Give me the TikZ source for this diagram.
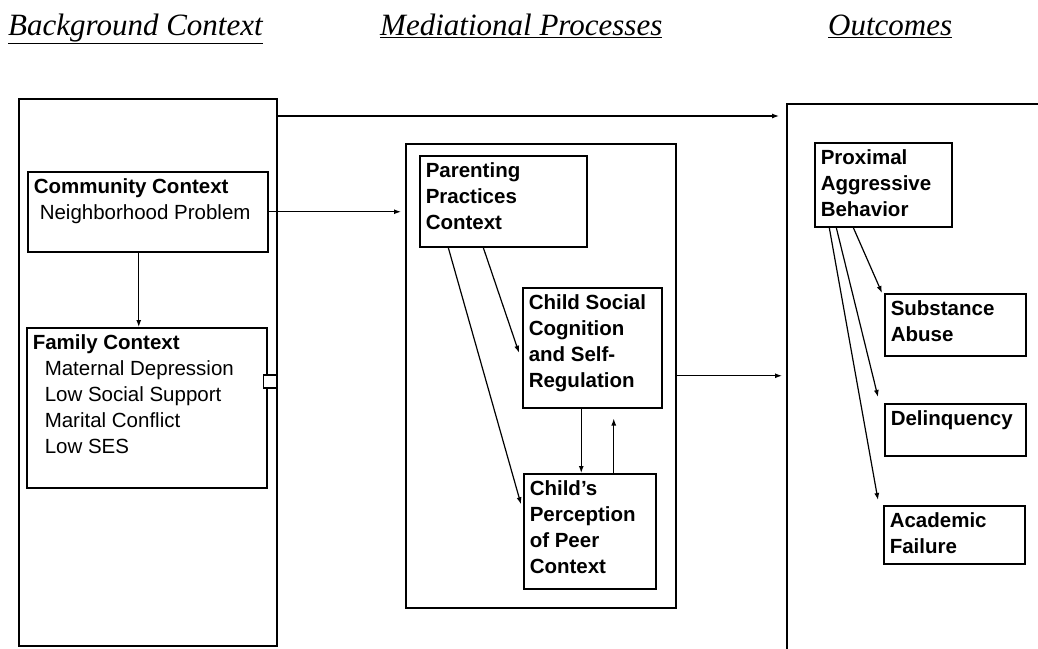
\documentclass[tikz,border=0pt]{standalone}
\usepackage{fontspec}
\setmainfont{Liberation Sans}
\newfontfamily\headfont{Liberation Serif}
\usetikzlibrary{arrows.meta}

\newcommand{\topbox}[3]{\parbox[t][#2][t]{#1}{\raggedright\strut #3}}

\tikzset{
  box/.style={draw, line width=1.5pt, anchor=north west, inner xsep=6pt, inner ysep=4pt,
    font=\fontsize{20.5}{26}\selectfont},
  frame/.style={draw, line width=1.5pt, anchor=north west, inner sep=0pt},
  head/.style={anchor=base west, inner sep=0pt, font=\headfont\itshape\fontsize{31}{36}\selectfont},
  arr/.style={-{Latex[length=7pt,width=5pt]}, line width=1.2pt}
}

\begin{document}
\begin{tikzpicture}[x=1pt, y=-1pt]
\useasboundingbox (0,0) rectangle (1038,648);
\clip (0,0) rectangle (1038,648);

% column titles
\node[head] (hbg) at (8,35) {\underline{Background Context}};
\node[head] (hmid) at (380,35) {\underline{Mediational Processes}};
\node[head] (hout) at (828,35) {\underline{Outcomes}};

% big frames
\node[frame, minimum width=258pt, minimum height=547pt] (bg) at (18,98) {};
\node[frame, minimum width=270pt, minimum height=464pt] (mid) at (405,143) {};
\node[frame, minimum width=300pt, minimum height=600pt] (out) at (786,103) {};

% background context
\node[box] (comm) at (27,171) {\topbox{228pt}{72pt}{\textbf{Community Context}\\
  \hspace*{6pt}Neighborhood Problem}};
\node[box] (fam) at (26,327) {\topbox{228pt}{152pt}{\textbf{Family Context}\\
  \hspace*{12pt}Maternal Depression\\
  \hspace*{12pt}Low Social Support\\
  \hspace*{12pt}Marital Conflict\\
  \hspace*{12pt}Low SES}};
\node[draw, fill=white, line width=1.2pt, minimum size=13pt, inner sep=0pt] (knot) at (270,381.5) {};

% mediational processes
\node[box] (parent) at (419,155) {\topbox{155pt}{83pt}{\bfseries Parenting\\Practices\\Context}};
\node[box] (social) at (522,287) {\topbox{127pt}{112pt}{\bfseries Child Social\\Cognition\\and Self-\\Regulation}};
\node[box] (percep) at (523,473) {\topbox{120pt}{107pt}{\bfseries Child's\\Perception\\of Peer\\Context}};

% outcomes
\node[box] (prox) at (814,142) {\topbox{125pt}{76pt}{\bfseries Proximal\\Aggressive\\Behavior}};
\node[box] (subst) at (884,293) {\topbox{129pt}{54pt}{\bfseries Substance\\Abuse}};
\node[box] (delinq) at (884,403) {\topbox{129pt}{44pt}{\bfseries Delinquency}};
\node[box] (acad) at (883,505) {\topbox{129pt}{50pt}{\bfseries Academic\\Failure}};

% connectors
\draw[arr, shorten >=7pt] ([yshift=-18pt]bg.north east) -- ([yshift=-13pt]out.north west);
\draw[arr, shorten >=4pt] (comm.east) -- (comm.east -| mid.west);
\draw[arr] ([xshift=-9pt]comm.south) -- ([xshift=-8pt]fam.north);
\draw[arr, shorten >=4pt] (mid.east) -- (mid.east -| out.west);

\draw[arr] ([xshift=-20pt]parent.south) -- ([xshift=-3pt,yshift=-5pt]social.west);
\draw[arr] ([xshift=-55pt]parent.south) -- ([xshift=-2pt,yshift=27pt]percep.west);
\draw[arr] ([xshift=-11pt]social.south) -- ([xshift=-8.5pt]percep.north);
\draw[arr, shorten >=10pt] ([xshift=24pt]percep.north) -- ([xshift=21.5pt]social.south);

\draw[arr] ([xshift=-30pt]prox.south) -- ([xshift=-2pt]subst.north west);
\draw[arr] ([xshift=-47pt]prox.south) -- ([xshift=-6pt,yshift=6pt]delinq.north west);
\draw[arr] ([xshift=-54pt]prox.south) -- ([xshift=-5pt,yshift=5pt]acad.north west);
\end{tikzpicture}
\end{document}
